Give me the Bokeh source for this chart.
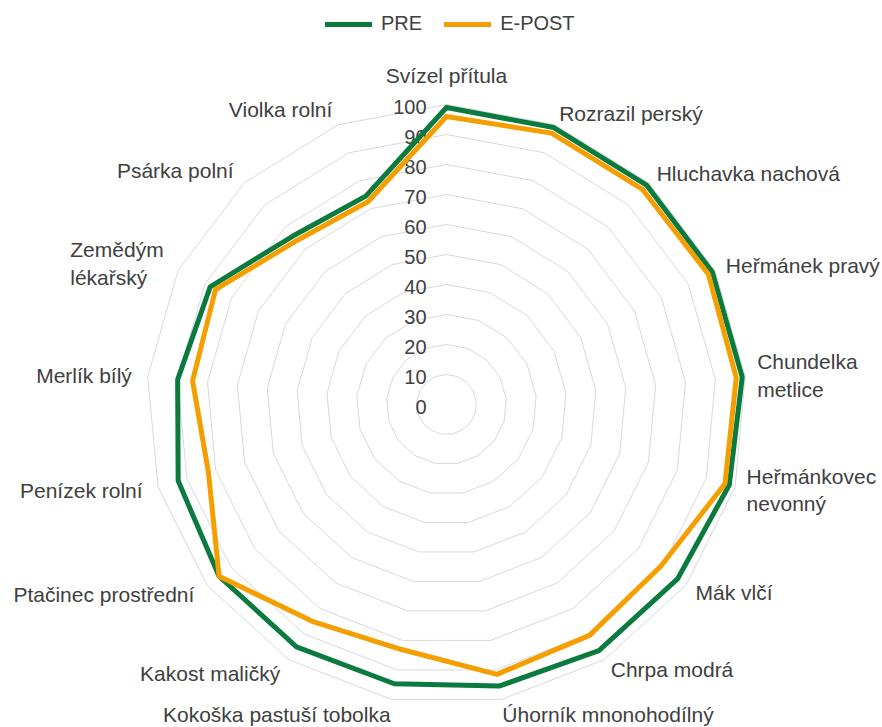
import numpy as np
from bokeh.plotting import figure
from bokeh.models import Range1d, Legend, LegendItem
from bokeh.core.properties import value
from bokeh.embed import file_html
from bokeh.resources import INLINE

# ---------------- data ----------------
categories = [
    "Svízel přítula", "Rozrazil perský", "Hluchavka nachová", "Heřmánek pravý",
    "Chundelka\nmetlice", "Heřmánkovec\nnevonný", "Mák vlčí", "Chrpa modrá",
    "Úhorník mnonohodílný", "Kokoška pastuší tobolka", "Kakost maličký",
    "Ptačinec prostřední", "Penízek rolní", "Merlík bílý", "Zemědým\nlékařský",
    "Psárka polní", "Violka rolní",
]
pre = [99, 99, 99, 99, 99, 98, 96.5, 96.5, 95.5, 94.7, 95, 95, 93, 90, 88, 76, 74.5]
epost = [96, 97, 97, 97.5, 97, 96.5, 89.5, 90.5, 91.5, 83, 85, 95, 82.5, 85, 86, 74, 72.5]
ticks = [0, 10, 20, 30, 40, 50, 60, 70, 80, 90, 100]
series_names = ["PRE", "E-POST"]

# ---------------- style ----------------
GREEN = "#0B7A3E"
ORANGE = "#F59E00"
GRID = "#D9D9D9"
TEXT = "#404040"
FONT = "Liberation Sans"

W, H = 882, 727
S = 3.0            # pixels per value unit
CX, CY = 446, 404  # centre in frame pixels

p = figure(width=W, height=H,
           x_range=Range1d(-CX / S, (W - CX) / S),
           y_range=Range1d(-(H - CY) / S, CY / S),
           output_backend="svg", toolbar_location=None,
           x_axis_location=None, y_axis_location=None, min_border=0)
p.grid.visible = False
p.outline_line_color = None
p.background_fill_color = "white"
p.border_fill_color = "white"

N = len(categories)
theta = np.arange(N) * 2 * np.pi / N
sn, cs = np.sin(theta), np.cos(theta)

def closed(vals):
    v = np.asarray(vals, dtype=float)
    xs = np.append(v * sn, v[0] * sn[0])
    ys = np.append(v * cs, v[0] * cs[0])
    return xs, ys

# grid rings
for t in ticks[1:]:
    xs, ys = closed([t] * N)
    p.line(xs, ys, line_color=GRID, line_width=1)

# tick labels
p.text(x=[0] * len(ticks), y=ticks, text=[str(t) for t in ticks],
       x_offset=-20, y_offset=2, text_align="right", text_baseline="middle",
       text_font=value(FONT), text_font_size="20px", text_color=TEXT)

# series
xs, ys = closed(pre)
r_pre = p.line(xs, ys, line_color=GREEN, line_width=5, line_join="round", line_cap="round")
xs, ys = closed(epost)
r_post = p.line(xs, ys, line_color=ORANGE, line_width=5, line_join="round", line_cap="round")

# category labels
for name, s, c in zip(categories, sn, cs):
    if abs(s) < 0.05:
        anchor, d = "bottom_center", 18
    elif c < -0.9:
        anchor, d = ("top_left" if s > 0 else "top_right"), 4
    elif s > 0:
        anchor, d = "center_left", 12
    else:
        anchor, d = "center_right", 16
    p.text(x=[100 * s], y=[100 * c], text=[name],
           x_offset=d * s, y_offset=-d * c, anchor=anchor,
           text_align="left", text_baseline="middle",
           text_font=value(FONT), text_font_size="21px", text_color=TEXT)

legend = Legend(items=[LegendItem(label=series_names[0], renderers=[r_pre]),
                       LegendItem(label=series_names[1], renderers=[r_post])],
                orientation="horizontal", location=(325, 692),
                glyph_width=47, glyph_height=20, label_standoff=9, spacing=22,
                padding=0, margin=0, border_line_color=None,
                background_fill_alpha=0,
                label_text_font=FONT, label_text_font_size="20px",
                label_text_color=TEXT)
p.add_layout(legend)

open("out.html", "w").write(file_html(p, INLINE))
